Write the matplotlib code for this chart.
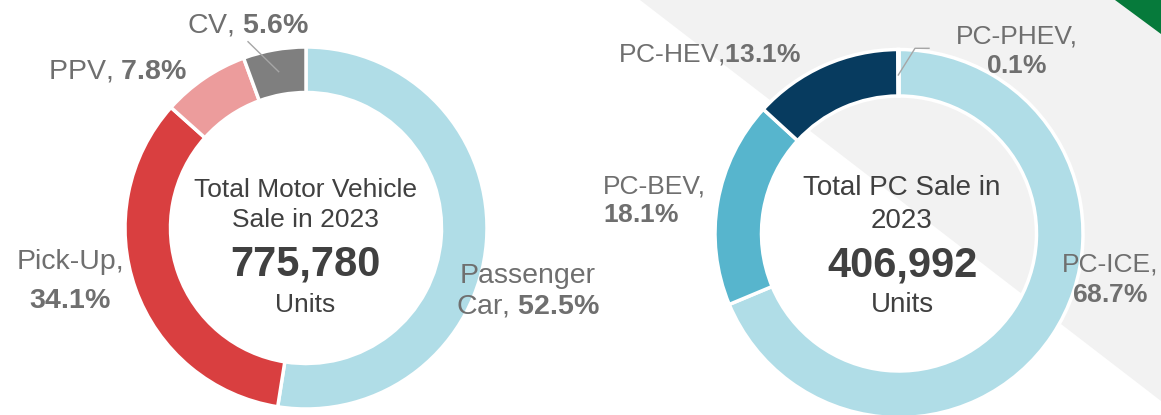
import matplotlib
matplotlib.use("Agg")
import matplotlib.pyplot as plt
from matplotlib.patches import Polygon

plt.rcParams['font.family'] = ['Liberation Sans', 'DejaVu Sans']
plt.rcParams['mathtext.fontset'] = 'custom'
plt.rcParams['mathtext.rm'] = 'Liberation Sans'
plt.rcParams['mathtext.bf'] = 'Liberation Sans:bold'

# ---------------- data ----------------
left_categories = ['Passenger Car', 'Pick-Up', 'PPV', 'CV']
left_shares = [52.5, 34.1, 7.8, 5.6]
left_total = 775780
left_title = ['Total Motor Vehicle', 'Sale in 2023']

right_categories = ['PC-ICE', 'PC-BEV', 'PC-HEV', 'PC-PHEV']
right_shares = [68.7, 18.1, 13.1, 0.1]
right_total = 406992
right_title = ['Total PC Sale in', '2023']

unit_label = 'Units'

left_colors = ['#b0dde7', '#d93f40', '#ec9c9c', '#7f7f7f']
right_colors = ['#b0dde7', '#57b5cd', '#073b5f', '#b0dde7']

W, H = 1161, 415
LABEL_C = '#6f6f6f'
CENTER_C = '#404040'


def Y(y):
    return H - y


fig = plt.figure(figsize=(W / 100, H / 100), dpi=100)
ax = fig.add_axes([0, 0, 1, 1])

# background shapes
ax.add_patch(Polygon([(640, Y(0)), (W, Y(0)), (W, Y(401))], closed=True,
                     facecolor='#f2f2f2', edgecolor='none', zorder=0))
ax.add_patch(Polygon([(1115, Y(0)), (W, Y(0)), (W, Y(34))], closed=True,
                     facecolor='#067a3b', edgecolor='none', zorder=0.5))

# donuts
ax.pie(left_shares, colors=left_colors, startangle=90, counterclock=False,
       radius=181, center=(306, Y(228)),
       wedgeprops=dict(width=45.5, edgecolor='white', linewidth=2.5))
ax.pie(right_shares, colors=right_colors, startangle=90, counterclock=False,
       radius=184, center=(899, Y(233.5)),
       wedgeprops=dict(width=46.5, edgecolor='white', linewidth=2.5))

ax.set_xlim(0, W)
ax.set_ylim(0, H)
ax.set_aspect('auto')
ax.axis('off')


def pct(v):
    return r'$\mathbf{' + f'{v:.1f}' + r'\%}$'


def txt(x, y, s, size, color=LABEL_C, ha='center', weight='normal'):
    ax.text(x, Y(y), s, fontsize=size, color=color, ha=ha, va='baseline',
            fontweight=weight)


# centre texts
LS = 19
txt(305.5, 196.7, left_title[0], LS, CENTER_C)
txt(305.5, 226.7, left_title[1], LS, CENTER_C)
txt(305.5, 276, f'{left_total:,}', 30, CENTER_C, weight='bold')
txt(305.5, 311.7, unit_label, LS, CENTER_C)

RS = 20
txt(902, 195, right_title[0], RS, CENTER_C)
txt(902, 227.7, right_title[1], RS, CENTER_C)
txt(902, 276.7, f'{right_total:,}', 30, CENTER_C, weight='bold')
txt(902, 311.7, unit_label, RS, CENTER_C)

# left labels
LL = 20.5
pc_words = left_categories[0].split(' ')
txt(528, 283.3, pc_words[0], LL)
txt(528, 313.3, pc_words[1] + ', ' + pct(left_shares[0]), LL)
txt(70, 269.3, left_categories[1] + ',', LL)
txt(70, 308.3, pct(left_shares[1]), LL)
txt(117.5, 78.3, left_categories[2] + ', ' + pct(left_shares[2]), LL)
txt(248, 32.3, left_categories[3] + ', ' + pct(left_shares[3]), LL)

# right labels
RL = 19
txt(1110.5, 271.7, right_categories[0] + ',', RL)
txt(1110.5, 301.7, pct(right_shares[0]), RL)
txt(603, 193.3, right_categories[1] + ',', RL, ha='left')
txt(603, 221.7, pct(right_shares[1]), RL, ha='left')
txt(710, 61.7, right_categories[2] + ',' + pct(right_shares[2]), RL)
txt(1017, 43.3, right_categories[3] + ',', RL)
txt(1017, 73.3, pct(right_shares[3]), RL)

# leader lines
ax.plot([248, 278.7], [Y(41.7), Y(71.7)], color='#a6a6a6', lw=1, zorder=3)
ax.plot([929, 915, 898.3], [Y(48.3), Y(48.3), Y(75)], color='#a6a6a6', lw=1,
        zorder=3)

fig.savefig('out.png', dpi=100)
